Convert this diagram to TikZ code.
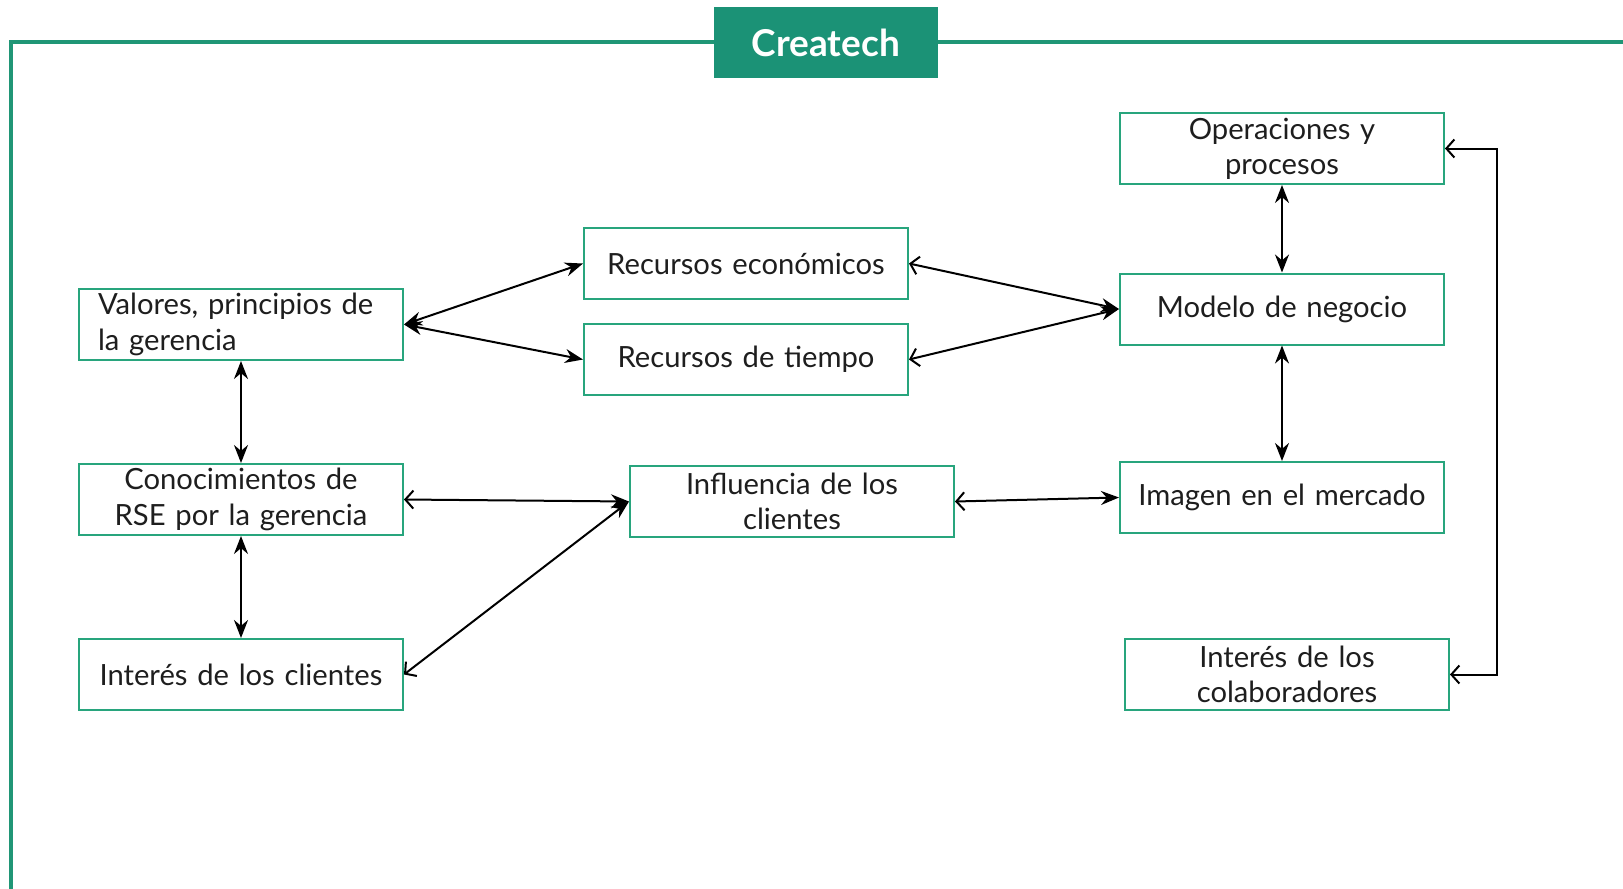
\documentclass[tikz,border=0pt]{standalone}
\usepackage{fontspec}
\setmainfont{Lato}
\usetikzlibrary{arrows.meta}
\definecolor{frameg}{RGB}{32,150,118}
\definecolor{boxg}{RGB}{40,165,125}
\definecolor{titleg}{RGB}{27,146,118}
\definecolor{txt}{RGB}{30,30,30}
\tikzset{
  box/.style={draw=boxg, line width=1pt, minimum width=162pt, minimum height=35.5pt,
    text width=158pt, inner xsep=2pt, inner ysep=0pt, align=center,
    font=\fontsize{14.6}{17.6}\selectfont, text=txt},
  lbox/.style={box, text width=143pt, inner xsep=9.5pt, align=left},
  conn/.style={line width=1pt, black},
  st/.tip={Stealth[length=9pt,width=7pt]},
  sb/.tip={Straight Barb[length=4pt,width=9pt,line width=1pt]},
}
\begin{document}
\begin{tikzpicture}[x=0.5pt,y=-0.5pt]
\useasboundingbox (0,0) rectangle (1623,889);
\fill[white] (0,0) rectangle (1623,889);
% frame
\draw[frameg, line width=1.6pt] (11,889) -- (11,42) -- (1623,42);
\node[fill=titleg, minimum width=112pt, minimum height=35.5pt, inner sep=0pt,
  text=white, font=\fontsize{18.5}{20}\selectfont\bfseries] (title) at (826,42.5) {Createch};
% boxes
\node[box] (ope) at (1282,148.5) {Operaciones y\\procesos};
\node[box] (eco) at (746,263.5) {Recursos económicos};
\node[lbox] (val) at (241,324.5) {Valores, principios de\\la gerencia};
\node[box] (mod) at (1282,309) {Modelo de negocio};
\node[box] (tie) at (746,359.5) {Recursos de tiempo};
\node[box] (con) at (241,499.5) {Conocimientos de\\RSE por la gerencia};
\node[box] (inf) at (792,501.5) {Influencia de los\\clientes};
\node[box] (img) at (1282,497.5) {Imagen en el mercado};
\node[box] (cli) at (241,674.5) {Interés de los clientes};
\node[box] (col) at (1287,674.5) {Interés de los\\colaboradores};
\coordinate (lt) at (1497,148.5);
\coordinate (lb) at (1497,674.5);
% connectors
\draw[conn, {st}-{st}] (val.east) -- (eco.west);
\draw[conn, {st}-{st}] (val.east) -- (tie.west);
\draw[conn, {sb}-{st}] (eco.east) -- (mod.west);
\draw[conn, {sb}-{st}] (tie.east) -- (mod.west);
\draw[conn, {st}-{st}] (ope.south) -- (mod.north);
\draw[conn, {st}-{st}] (mod.south) -- (img.north);
\draw[conn, {st}-{st}] (val.south) -- (con.north);
\draw[conn, {st}-{st}] (con.south) -- (cli.north);
\draw[conn, {sb}-{st}] (con.east) -- (inf.west);
\draw[conn, {sb}-{st}] (cli.east) -- (inf.west);
\draw[conn, {sb}-{st}] (inf.east) -- (img.west);
\draw[conn, {sb}-{sb}] (ope.east) -- (lt) -- (lb) -- (col.east);
\end{tikzpicture}
\end{document}
